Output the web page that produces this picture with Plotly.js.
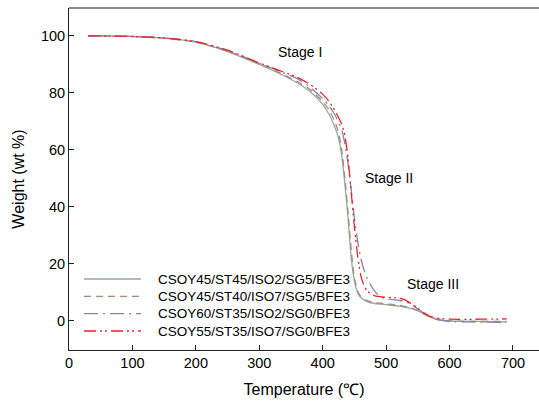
<!DOCTYPE html>
<html>
<head>
<meta charset="utf-8">
<script src="https://cdn.plot.ly/plotly-3.0.1.min.js"></script>
<style>html,body{margin:0;padding:0;background:#fff;}#chart{width:539px;height:405px;}</style>
</head>
<body>
<div id="chart"></div>
<script>
// Series names
const seriesNames = [
  "CSOY45/ST45/ISO2/SG5/BFE3",
  "CSOY45/ST40/ISO7/SG5/BFE3",
  "CSOY60/ST35/ISO2/SG0/BFE3",
  "CSOY55/ST35/ISO7/SG0/BFE3"
];

// Temperature (°C) and weight (wt %) per series
const temp1 = [30, 50, 100, 150, 200, 250, 300, 330, 360, 380, 400, 410, 420, 425, 430, 435, 440, 445, 450, 455, 460, 470, 480, 500, 520, 540, 550, 560, 570, 580, 600, 650, 690];
const weight1 = [100, 100, 99.8, 99.2, 97.8, 94.5, 90, 87, 83.5, 80.5, 76, 72.5, 67.5, 64, 58, 48, 36, 22, 14, 10, 8.2, 6.8, 6.2, 5.7, 5.2, 4.3, 3.5, 2.4, 1.3, 0.5, 0, -0.2, -0.3];

const temp2 = [30, 50, 100, 150, 200, 250, 300, 330, 360, 380, 400, 410, 420, 425, 430, 435, 440, 445, 450, 455, 460, 470, 480, 500, 520, 540, 550, 560, 570, 580, 600, 650, 690];
const weight2 = [100, 100, 99.8, 99.2, 97.8, 94.6, 90.2, 87.3, 84, 81.2, 77, 74, 69.5, 66, 60, 50, 38, 25, 15, 10.5, 8.6, 7.1, 6.5, 6, 5.5, 4.5, 3.7, 2.5, 1.4, 0.6, 0, -0.2, -0.2];

const temp3 = [30, 50, 100, 150, 200, 250, 300, 330, 360, 380, 400, 410, 420, 430, 435, 440, 445, 450, 455, 460, 465, 470, 480, 490, 500, 520, 530, 540, 550, 560, 580, 600, 650, 690];
const weight3 = [100, 100, 99.8, 99.3, 98, 94.8, 90.5, 87.8, 85, 82, 78, 75.5, 72, 67, 62, 55, 46, 36, 28, 22, 18, 15, 11, 8.6, 7.8, 7.2, 6.8, 5.8, 4.2, 2.6, 0.6, -0.2, -0.4, -0.5];

const temp4 = [30, 50, 100, 150, 200, 250, 300, 330, 360, 380, 400, 410, 420, 430, 435, 440, 445, 450, 455, 460, 465, 470, 480, 490, 500, 520, 530, 540, 550, 560, 570, 580, 600, 650, 690];
const weight4 = [100, 100, 99.8, 99.3, 98, 95, 90.5, 88, 85.5, 83, 79.5, 77, 73.5, 69, 65, 57, 45, 33, 23, 16, 12.5, 10.5, 9, 8.5, 8.3, 8, 7.4, 6, 4.4, 2.8, 1.5, 1, 0.6, 0.6, 0.7];

// Tick labels
const xTicks = [0, 100, 200, 300, 400, 500, 600, 700];
const yTicks = [0, 20, 40, 60, 80, 100];

// Stage labels
const stageText = ["Stage I", "Stage II", "Stage III"];
const stageX = [364, 505, 574];
const stageY = [94.4, 50.2, 13];

const colors = ["#93ab9c", "#a8887a", "#8484aa", "#e3252b"];
const dashes = ["solid", "7px,5px", "14px,5px,2px,5px", "12px,4px,2px,3px,2px,4px"];

const temps = [temp1, temp2, temp3, temp4];
const weights = [weight1, weight2, weight3, weight4];

const traces = seriesNames.map((n, i) => ({
  x: temps[i], y: weights[i], name: n, type: "scatter", mode: "lines",
  showlegend: false,
  line: {color: colors[i], width: 1.3, dash: dashes[i], shape: "spline", smoothing: 0.6}
}));

const font = {family: "Liberation Sans, Arial, sans-serif", color: "#000"};

// Hand-built legend (keys in paper coordinates)
const legTop = 0.2076, legStep = 0.0507;
const legShapes = seriesNames.map((n, i) => ({
  type: "line", xref: "paper", yref: "paper",
  x0: 0.032, x1: 0.153, y0: legTop - i * legStep, y1: legTop - i * legStep,
  line: {color: colors[i], width: 1.3, dash: dashes[i]}
}));
const legLabels = seriesNames.map((n, i) => ({
  xref: "paper", yref: "paper", x: 0.185, y: legTop - i * legStep,
  text: n, showarrow: false, xanchor: "left", yanchor: "middle",
  font: Object.assign({size: 13.5}, font)
}));

const layout = {
  width: 539, height: 405,
  margin: {l: 69, r: 0, t: 8, b: 55},
  paper_bgcolor: "#fff", plot_bgcolor: "#fff",
  font: Object.assign({size: 14}, font),
  showlegend: false,
  xaxis: {
    range: [0, 741], tickvals: xTicks, ticktext: xTicks.map(String),
    ticks: "inside", ticklen: 5, tickcolor: "#222", showgrid: false, zeroline: false,
    showline: true, linecolor: "#222", linewidth: 1,
    tickfont: Object.assign({size: 14.5}, font),
    title: {text: "Temperature (℃)", font: Object.assign({size: 16}, font), standoff: 13}
  },
  yaxis: {
    range: [-10.2, 109.8], tickvals: yTicks, ticktext: yTicks.map(String),
    ticks: "inside", ticklen: 5, tickcolor: "#222", showgrid: false, zeroline: false,
    showline: true, linecolor: "#222", linewidth: 1,
    tickfont: Object.assign({size: 14.5}, font),
    title: {text: "Weight (wt %)", font: Object.assign({size: 16}, font), standoff: 12}
  },
  shapes: [{type: "line", xref: "paper", yref: "paper", x0: 0, x1: 1, y0: 1, y1: 1,
            line: {color: "#888", width: 2}}].concat(legShapes),
  annotations: stageText.map((t, i) => ({
    x: stageX[i], y: stageY[i], text: t, showarrow: false,
    xanchor: "center", yanchor: "middle",
    font: Object.assign({size: 14}, font)
  })).concat(legLabels)
};

Plotly.newPlot("chart", traces, layout, {staticPlot: true, displayModeBar: false});
</script>
</body>
</html>
